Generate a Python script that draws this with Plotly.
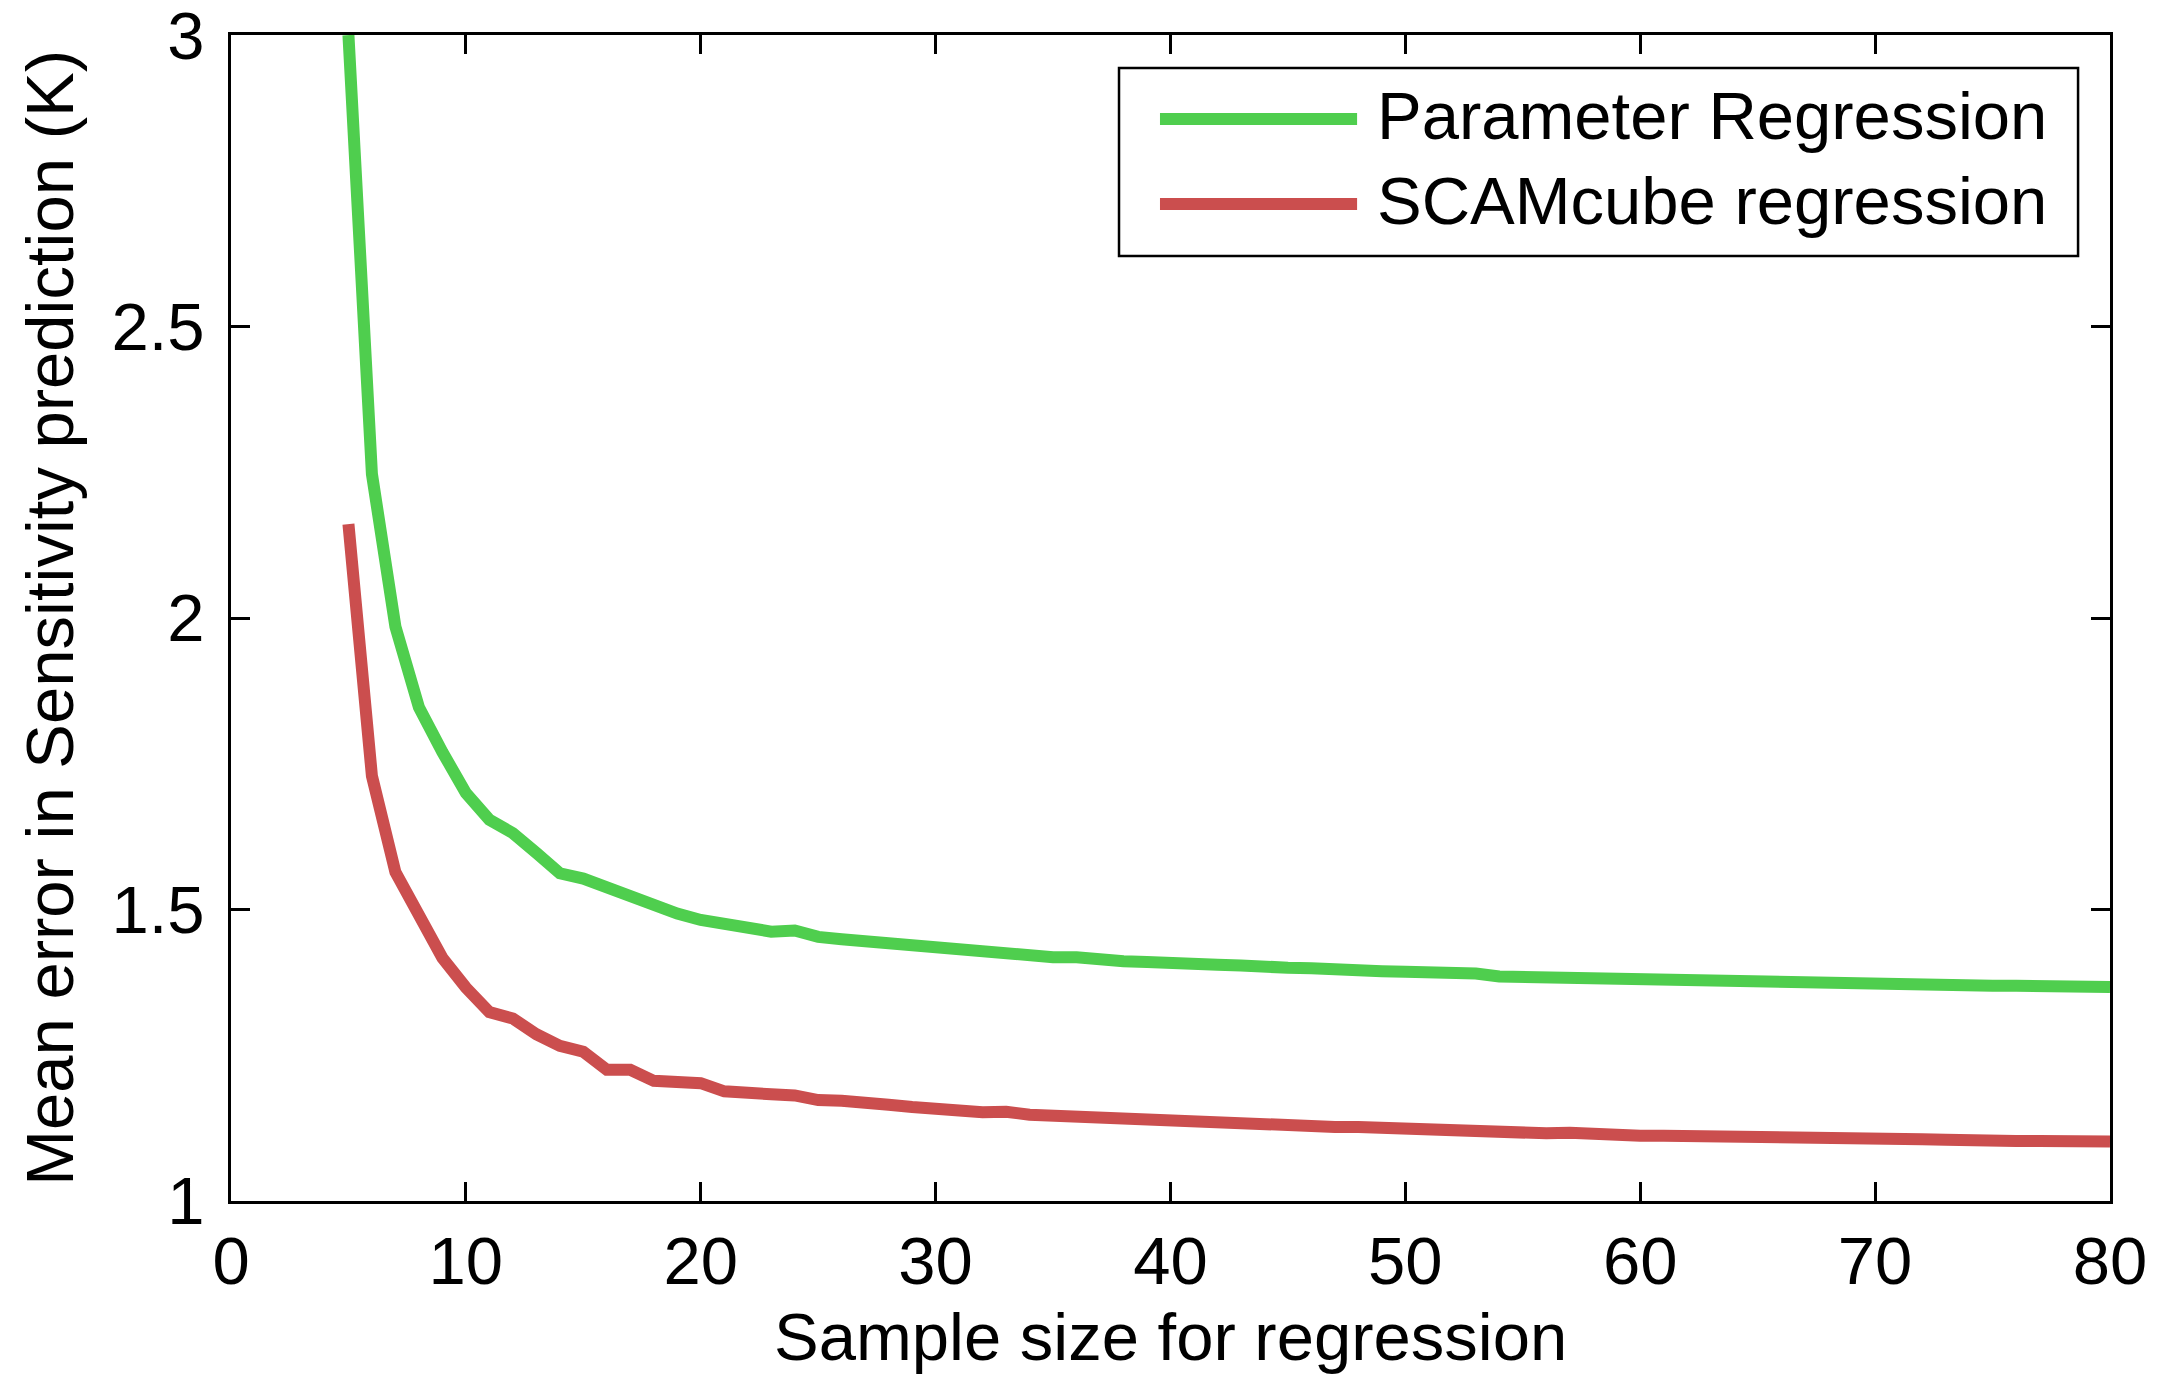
import plotly.graph_objects as go

# ---- data ----
sample_size = list(range(5, 81))

param_regression = [
    3.00, 2.247, 1.985, 1.847, 1.770, 1.700, 1.654, 1.631, 1.597, 1.562,
    1.553, 1.537, 1.523, 1.506, 1.493, 1.482, 1.476, 1.472, 1.462, 1.464,
    1.453, 1.449, 1.445, 1.443, 1.439, 1.436, 1.431, 1.425, 1.425, 1.420,
    1.418, 1.418, 1.413, 1.411, 1.410, 1.410, 1.408, 1.405, 1.404, 1.400,
    1.400, 1.399, 1.399, 1.395, 1.394, 1.393, 1.393, 1.390, 1.390, 1.385,
    1.384, 1.383, 1.382, 1.382, 1.381, 1.380, 1.378, 1.378, 1.377, 1.376,
    1.375, 1.375, 1.374, 1.374, 1.373, 1.373, 1.372, 1.372, 1.371, 1.370,
    1.369, 1.369, 1.369, 1.368, 1.368, 1.367,
]

scamcube_regression = [
    2.161, 1.729, 1.564, 1.489, 1.417, 1.366, 1.324, 1.313, 1.286, 1.266,
    1.256, 1.225, 1.225, 1.206, 1.205, 1.202, 1.188, 1.183, 1.183, 1.181,
    1.173, 1.172, 1.166, 1.165, 1.161, 1.156, 1.155, 1.152, 1.153, 1.148,
    1.146, 1.147, 1.144, 1.140, 1.140, 1.138, 1.135, 1.134, 1.132, 1.132,
    1.131, 1.129, 1.127, 1.127, 1.125, 1.124, 1.124, 1.120, 1.120, 1.117,
    1.116, 1.116, 1.117, 1.114, 1.113, 1.112, 1.112, 1.111, 1.111, 1.110,
    1.109, 1.109, 1.107, 1.107, 1.107, 1.107, 1.107, 1.106, 1.105, 1.103,
    1.103, 1.103, 1.103, 1.103, 1.102, 1.102,
]

series_names = ["Parameter Regression", "SCAMcube regression"]
series_colors = ["#4fce4e", "#cb4e4e"]

x_ticks = [0, 10, 20, 30, 40, 50, 60, 70, 80]
y_ticks = [1, 1.5, 2, 2.5, 3]
y_tick_text = ["1", "1.5", "2", "2.5", "3"]

x_title = "Sample size for regression"
y_title = "Mean error in Sensitivity prediction (K)"

FONT = "Liberation Sans, Arial, Helvetica, sans-serif"
FS = 67
LW = 12

fig = go.Figure()
for name, vals, col in zip(series_names, [param_regression, scamcube_regression], series_colors):
    fig.add_trace(go.Scatter(
        x=sample_size, y=vals, mode="lines", name=name,
        line=dict(color=col, width=LW), showlegend=False,
    ))

axis_common = dict(
    showline=True, linecolor="black", linewidth=3, mirror="ticks",
    ticks="inside", ticklen=19, tickwidth=2.5, tickcolor="black",
    showgrid=False, zeroline=False, ticklabeloverflow="allow",
    tickfont=dict(family=FONT, size=FS, color="black"),
)

fig.update_xaxes(
    range=[0, 80.0001], tickvals=x_ticks, ticktext=[str(v) for v in x_ticks],
    ticklabelstandoff=0,
    **axis_common,
)
fig.update_yaxes(
    range=[0.9999, 3.0001], tickvals=y_ticks, ticktext=y_tick_text,
    ticklabelstandoff=10,
    **axis_common,
)

# ---- axis titles ----
fig.add_annotation(xref="paper", yref="paper", x=0.5, y=-0.1165,
                   xanchor="center", yanchor="middle", showarrow=False,
                   text=x_title, font=dict(family=FONT, size=FS, color="black"))
fig.add_annotation(xref="paper", yref="paper", x=-0.097, y=0.5, textangle=-90,
                   xanchor="center", yanchor="middle", showarrow=False,
                   text=y_title, font=dict(family=FONT, size=FS, color="black"))

# ---- legend drawn as a boxed key (paper coordinates) ----
legend_box = dict(x0=0.4726, x1=0.9830, y0=0.8105, y1=0.9717)
legend_rows_y = [0.928, 0.855]
fig.add_shape(type="rect", xref="paper", yref="paper", **legend_box,
              line=dict(color="black", width=2.5), fillcolor="white", layer="above")
for name, col, yy in zip(series_names, series_colors, legend_rows_y):
    fig.add_shape(type="line", xref="paper", yref="paper",
                  x0=0.4944, x1=0.5993, y0=yy, y1=yy,
                  line=dict(color=col, width=LW), layer="above")
    fig.add_annotation(xref="paper", yref="paper", x=0.609, y=yy + 0.003,
                       xanchor="left", yanchor="middle", showarrow=False,
                       text=name, font=dict(family=FONT, size=FS, color="black"))

# page body has an 8px margin, so compensate to keep the plot area in place
fig.update_layout(
    width=2159, height=1371,
    margin=dict(l=223, r=57, t=27, b=178, autoexpand=False),
    paper_bgcolor="white", plot_bgcolor="white",
    font=dict(family=FONT, size=FS, color="black"),
)

fig.write_html("out.html")
